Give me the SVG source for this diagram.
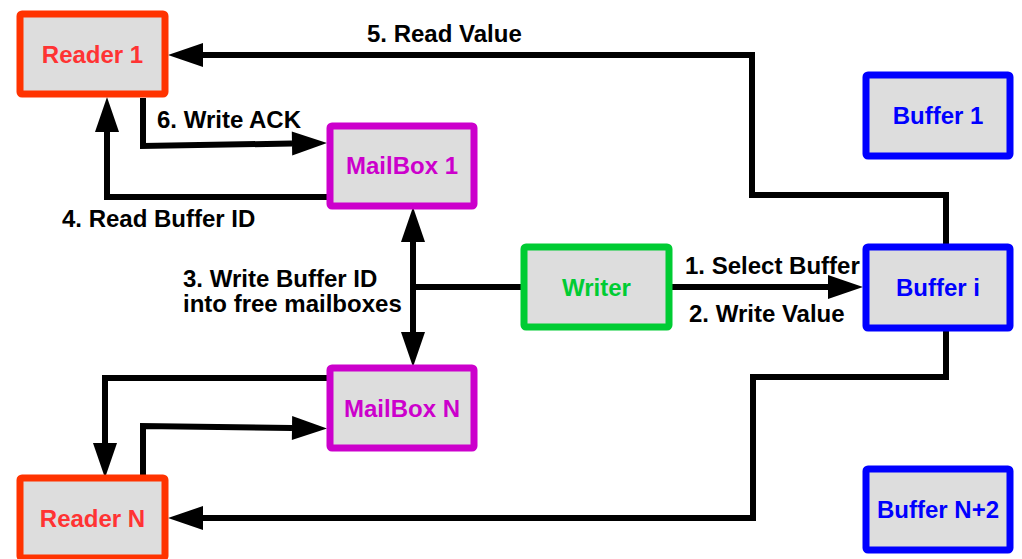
<svg xmlns="http://www.w3.org/2000/svg" width="1022" height="559" viewBox="0 0 1022 559">
  <style>
    .box { fill: #dddddd; stroke-width: 7; }
    .reader { stroke: #ff3300; }
    .mailbox { stroke: #cc00cc; }
    .writer { stroke: #00cc33; }
    .buffer { stroke: #0000ff; }
    text { font-family: "Liberation Sans", Arial, sans-serif; font-weight: bold; font-size: 24px; }
    .name { text-anchor: middle; }
    .reader-t { fill: #ff3333; }
    .mailbox-t { fill: #cc00cc; }
    .writer-t { fill: #00cc33; }
    .buffer-t { fill: #0000ff; }
    .label { fill: #000000; }
    .wire { fill: none; stroke: #000000; stroke-width: 6; stroke-linejoin: miter; }
  </style>
  <defs>
    <marker id="arrow" markerUnits="userSpaceOnUse" markerWidth="36" markerHeight="24" refX="0" refY="12" orient="auto-start-reverse" overflow="visible">
      <path d="M0,0 L35,12 L0,24 Z" fill="#000000"/>
    </marker>
  </defs>

  <rect width="1022" height="559" fill="#ffffff"/>

  <!-- connectors -->
  <g id="connectors">
    <!-- 5. Read Value: Buffer i to Reader 1 -->
    <path class="wire" d="M946,247 V195 H752 V55 H203" marker-end="url(#arrow)"/>
    <!-- Buffer i to Reader N -->
    <path class="wire" d="M946,331 V377 H753 V518 H203" marker-end="url(#arrow)"/>
    <!-- 1./2. Writer to Buffer i -->
    <path class="wire" d="M669,287 H828" marker-end="url(#arrow)"/>
    <!-- 3. Writer to the mailboxes -->
    <path class="wire" d="M524,287 H413"/>
    <path class="wire" d="M413,242 V332" marker-start="url(#arrow)" marker-end="url(#arrow)"/>
    <!-- 6. Write ACK: Reader 1 to MailBox 1 -->
    <path class="wire" d="M143,98 V146 L292,143.5" marker-end="url(#arrow)"/>
    <!-- 4. Read Buffer ID: MailBox 1 to Reader 1 -->
    <path class="wire" d="M327,197 H107 V132" marker-end="url(#arrow)"/>
    <!-- MailBox N to Reader N -->
    <path class="wire" d="M327,378 H105 V443" marker-end="url(#arrow)"/>
    <!-- Reader N to MailBox N -->
    <path class="wire" d="M143,476 V426 L292,428" marker-end="url(#arrow)"/>
  </g>

  <!-- nodes -->
  <g id="reader1">
    <rect class="box reader" x="20" y="14" width="145" height="80" rx="2"/>
    <text class="name reader-t" x="92.5" y="63">Reader 1</text>
  </g>
  <g id="readerN">
    <rect class="box reader" x="20" y="478" width="145" height="80" rx="2"/>
    <text class="name reader-t" x="92.5" y="527">Reader N</text>
  </g>
  <g id="mailbox1">
    <rect class="box mailbox" x="330" y="126" width="144" height="80" rx="2"/>
    <text class="name mailbox-t" x="402" y="174">MailBox 1</text>
  </g>
  <g id="mailboxN">
    <rect class="box mailbox" x="330" y="368" width="144" height="80" rx="2"/>
    <text class="name mailbox-t" x="402" y="416.5">MailBox N</text>
  </g>
  <g id="writer">
    <rect class="box writer" x="524" y="247" width="145" height="80" rx="2"/>
    <text class="name writer-t" x="596.5" y="295.5">Writer</text>
  </g>
  <g id="buffer1">
    <rect class="box buffer" x="866" y="75" width="144" height="81" rx="2"/>
    <text class="name buffer-t" x="938" y="124">Buffer 1</text>
  </g>
  <g id="bufferI">
    <rect class="box buffer" x="866" y="247" width="144" height="81" rx="2"/>
    <text class="name buffer-t" x="938" y="296">Buffer i</text>
  </g>
  <g id="bufferN2">
    <rect class="box buffer" x="866" y="469" width="144" height="81" rx="2"/>
    <text class="name buffer-t" x="938" y="518">Buffer N+2</text>
  </g>

  <!-- step labels -->
  <g id="labels">
    <text class="label" x="367" y="42">5. Read Value</text>
    <text class="label" x="157" y="128">6. Write ACK</text>
    <text class="label" x="62" y="227">4. Read Buffer ID</text>
    <text class="label" x="183" y="287">3. Write Buffer ID</text>
    <text class="label" x="183" y="312">into free mailboxes</text>
    <text class="label" x="685" y="274">1. Select Buffer</text>
    <text class="label" x="689" y="322">2. Write Value</text>
  </g>
</svg>
